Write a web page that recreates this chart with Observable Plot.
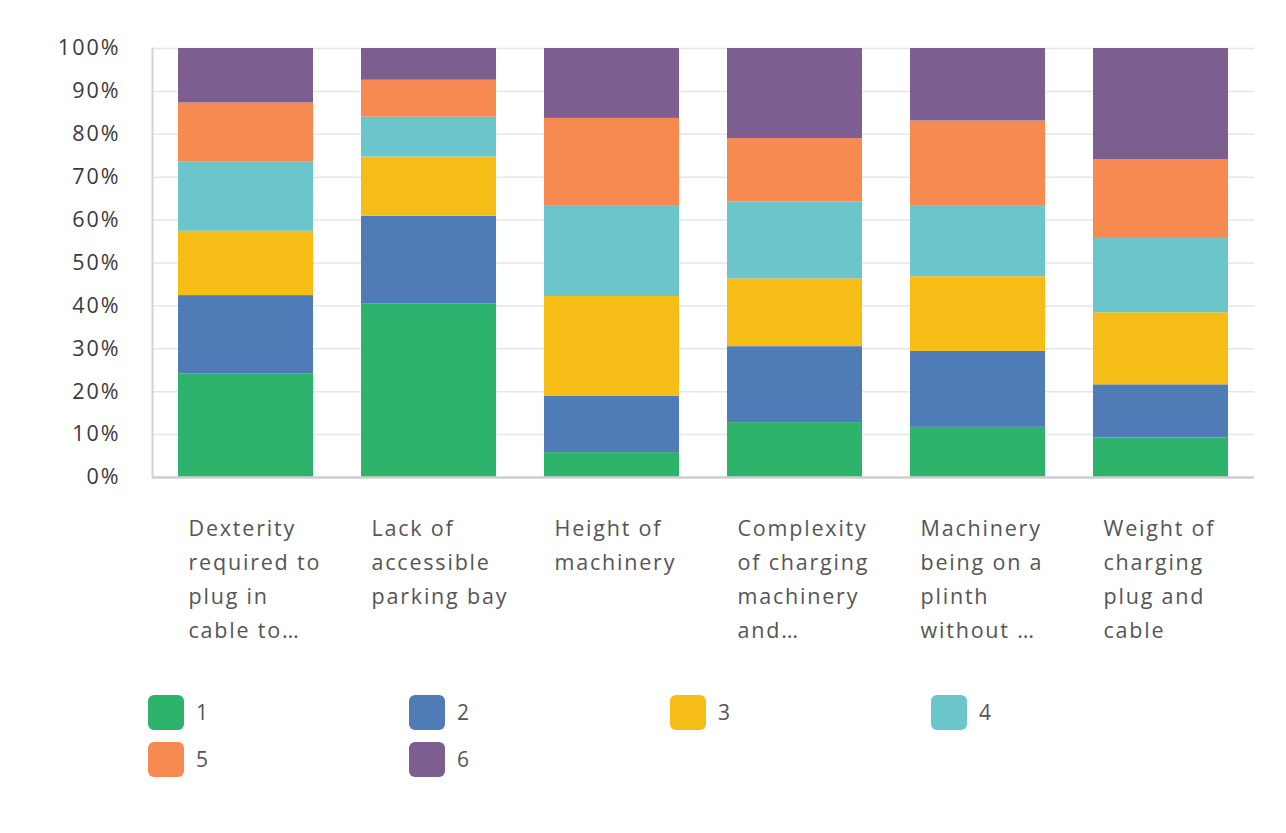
<!DOCTYPE html>
<html>
<head>
<meta charset="utf-8">
<script src="https://cdn.jsdelivr.net/npm/d3@7"></script>
<script src="https://cdn.jsdelivr.net/npm/@observablehq/plot@0.6"></script>
<style>
  html, body { margin: 0; padding: 0; background: #fff; }
  #wrap { position: relative; width: 1286px; height: 833px; font-family: "Open Sans", sans-serif; }
  #legend { position: absolute; left: 148px; top: 694px; width: 1100px; }
  .item { position: absolute; display: flex; align-items: center; height: 36px; font-size: 21px; color: #555; letter-spacing: 1px; }
  .sw { width: 36px; height: 35px; border-radius: 6px; margin-right: 12px; }
  g[aria-label="x-axis tick label"] text { letter-spacing: 1.8px; }
  g[aria-label="y-axis tick label"] text { letter-spacing: 2px; }
</style>
</head>
<body>
<div id="wrap"><div id="chart"></div><div id="legend"></div></div>
<script>
const categories = [
  "Dexterity required to plug in cable to…",
  "Lack of accessible parking bay",
  "Height of machinery",
  "Complexity of charging machinery and…",
  "Machinery being on a plinth without …",
  "Weight of charging plug and cable"
];
const tickLabels = [
  "Dexterity\nrequired to\nplug in\ncable to…",
  "Lack of\naccessible\nparking bay",
  "Height of\nmachinery",
  "Complexity\nof charging\nmachinery\nand…",
  "Machinery\nbeing on a\nplinth\nwithout …",
  "Weight of\ncharging\nplug and\ncable"
];
const ranks = ["1", "2", "3", "4", "5", "6"];
const colors = ["#2db36c", "#4f7bb6", "#f6bd16", "#6ac6cb", "#f78a50", "#7d5e91"];
const rank1 = [24.1, 40.5, 5.8, 12.8, 11.7, 9.2];
const rank2 = [18.3, 20.4, 13.1, 17.7, 17.7, 12.4];
const rank3 = [15.0, 13.8, 23.3, 15.8, 17.4, 16.8];
const rank4 = [16.1, 9.3, 21.0, 17.9, 16.4, 17.3];
const rank5 = [13.8, 8.6, 20.5, 14.8, 19.9, 18.4];
const rank6 = [12.7, 7.4, 16.3, 21.0, 16.9, 25.9];
const yTicks = [0, 10, 20, 30, 40, 50, 60, 70, 80, 90, 100];

const series = [rank1, rank2, rank3, rank4, rank5, rank6];
const rows = [];
ranks.forEach((r, i) => categories.forEach((c, j) => rows.push({category: c, rank: r, value: series[i][j]})));
const labelOf = new Map(categories.map((c, i) => [c, tickLabels[i]]));

const bw = 135;
const chart = Plot.plot({
  width: 1286,
  height: 680,
  marginLeft: 152,
  marginRight: 32,
  marginTop: 48,
  marginBottom: 203,
  style: {fontFamily: "Open Sans, sans-serif", background: "#fff"},
  x: {domain: categories, paddingInner: 0.264, paddingOuter: 0.142, label: null},
  y: {domain: [0, 100], ticks: yTicks, label: null},
  color: {domain: ranks, range: colors},
  marks: [
    Plot.gridY(yTicks, {stroke: "#e6e6e6", strokeOpacity: 1, strokeWidth: 1.5}),
    Plot.barY(rows, Plot.stackY({x: "category", y: "value", fill: "rank", order: null})),
    Plot.frame({anchor: "left", stroke: "#d2d2d2", strokeWidth: 2}),
    Plot.ruleY([0], {stroke: "#cfcfcf", strokeWidth: 2.5}),
    Plot.axisY(yTicks, {tickSize: 0, tickPadding: 32, tickFormat: d => d + "%", fontSize: 21.5, fill: "#3a3a3a", label: null}),
    Plot.axisX({tickSize: 0, tickPadding: 34, tickFormat: d => labelOf.get(d), textAnchor: "start", dx: -bw / 2 + 10, fontSize: 21.5, fill: "#555", lineHeight: 1.58, label: null})
  ]
});
document.getElementById("chart").appendChild(chart);

const legend = document.getElementById("legend");
ranks.forEach((r, i) => {
  const el = document.createElement("div");
  el.className = "item";
  el.style.left = ((i % 4) * 261) + "px";
  el.style.top = (Math.floor(i / 4) * 47) + "px";
  el.innerHTML = `<div class="sw" style="background:${colors[i]}"></div><span>${r}</span>`;
  legend.appendChild(el);
});
</script>
</body>
</html>
